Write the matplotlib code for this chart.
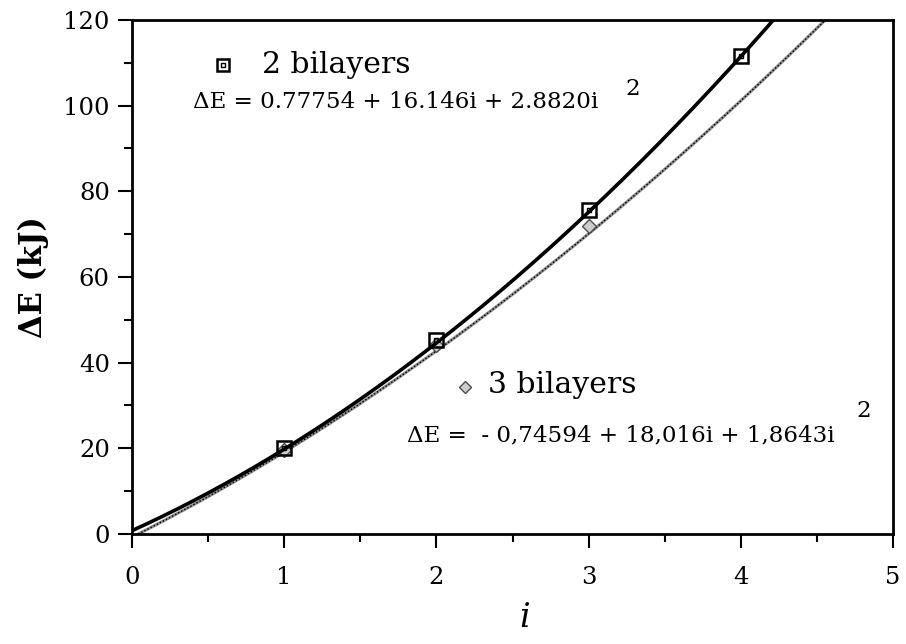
import numpy as np
import matplotlib
matplotlib.use("Agg")
import matplotlib.pyplot as plt
from matplotlib.ticker import MultipleLocator

plt.rcParams['font.family'] = ['DejaVu Serif']
plt.rcParams['mathtext.fontset'] = 'dejavuserif'

# data points
i_2bil = [1, 2, 3, 4]
dE_2bil = [20.0, 45.3, 75.6, 111.5]
i_3bil = [1, 2, 3]
dE_3bil = [19.5, 44.2, 72.0]

# fitted polynomial coefficients (c0, c1, c2) as printed on the chart
fit_2bil = [0.77754, 16.146, 2.8820]
fit_3bil = [-0.74594, 18.016, 1.8643]

x = np.linspace(0, 5, 300)
y2 = fit_2bil[0] + fit_2bil[1] * x + fit_2bil[2] * x ** 2
y3 = fit_3bil[0] + fit_3bil[1] * x + fit_3bil[2] * x ** 2

fig = plt.figure(figsize=(9.06, 6.44), dpi=100)
ax = fig.add_axes([0.1457, 0.1708, 0.84, 0.7982])

# 3 bilayers: grey textured line
ax.plot(x, y3, color='0.55', lw=2.2, zorder=2)
ax.plot(x, y3, color='black', lw=1.0, ls=(0, (1, 1.5)), zorder=3)
ax.plot(i_3bil, dE_3bil, ls='none', marker='D', ms=7, mfc='0.8', mec='0.3', mew=1.0, zorder=4)

# 2 bilayers: solid black line
ax.plot(x, y2, color='black', lw=2.6, zorder=5)
ax.plot(i_2bil, dE_2bil, ls='none', marker='s', ms=9.5, mfc='none', mec='black', mew=1.8, zorder=6)
ax.plot(i_2bil, dE_2bil, ls='none', marker='s', ms=3.5, mfc='none', mec='black', mew=1.0, zorder=6)

ax.set_xlim(0, 5)
ax.set_ylim(0, 120)
ax.xaxis.set_major_locator(MultipleLocator(1))
ax.xaxis.set_minor_locator(MultipleLocator(0.5))
ax.yaxis.set_major_locator(MultipleLocator(20))
ax.yaxis.set_minor_locator(MultipleLocator(10))
ax.tick_params(which='major', direction='out', length=10, width=1.5, labelsize=17.5)
ax.tick_params(axis='x', which='major', pad=13)
ax.tick_params(axis='y', which='major', pad=6)
ax.tick_params(which='minor', direction='out', length=6, width=1.5)
for s in ax.spines.values():
    s.set_linewidth(2)

ax.set_xlabel('$i$', fontsize=24)
ax.xaxis.set_label_coords(0.516, -0.133)
ax.set_ylabel('ΔE (kJ)', fontsize=22, fontweight='bold', labelpad=10)

# legend-like annotations
ax.plot([0.598], [109.5], ls='none', marker='s', ms=8, mfc='none', mec='black', mew=1.8, clip_on=False)
ax.plot([0.598], [109.5], ls='none', marker='s', ms=2.5, mfc='none', mec='black', mew=1.0, clip_on=False)
ax.text(0.854, 109.5, '2 bilayers', fontsize=21.5, va='center', ha='left')
ax.text(0.40, 100.9, 'ΔE = 0.77754 + 16.146i + 2.8820i', fontsize=16.6, va='center', ha='left')
ax.text(3.24, 103.9, '2', fontsize=16.6, va='center', ha='left')

ax.plot([2.188], [34.3], ls='none', marker='D', ms=6, mfc='0.8', mec='0.3', mew=1.0)
ax.text(2.339, 34.8, '3 bilayers', fontsize=21.5, va='center', ha='left')
ax.text(1.807, 23.1, 'ΔE =  - 0,74594 + 18,016i + 1,8643i', fontsize=16.6, va='center', ha='left')
ax.text(4.757, 28.6, '2', fontsize=16.6, va='center', ha='left')

fig.savefig('out.png', dpi=100)
